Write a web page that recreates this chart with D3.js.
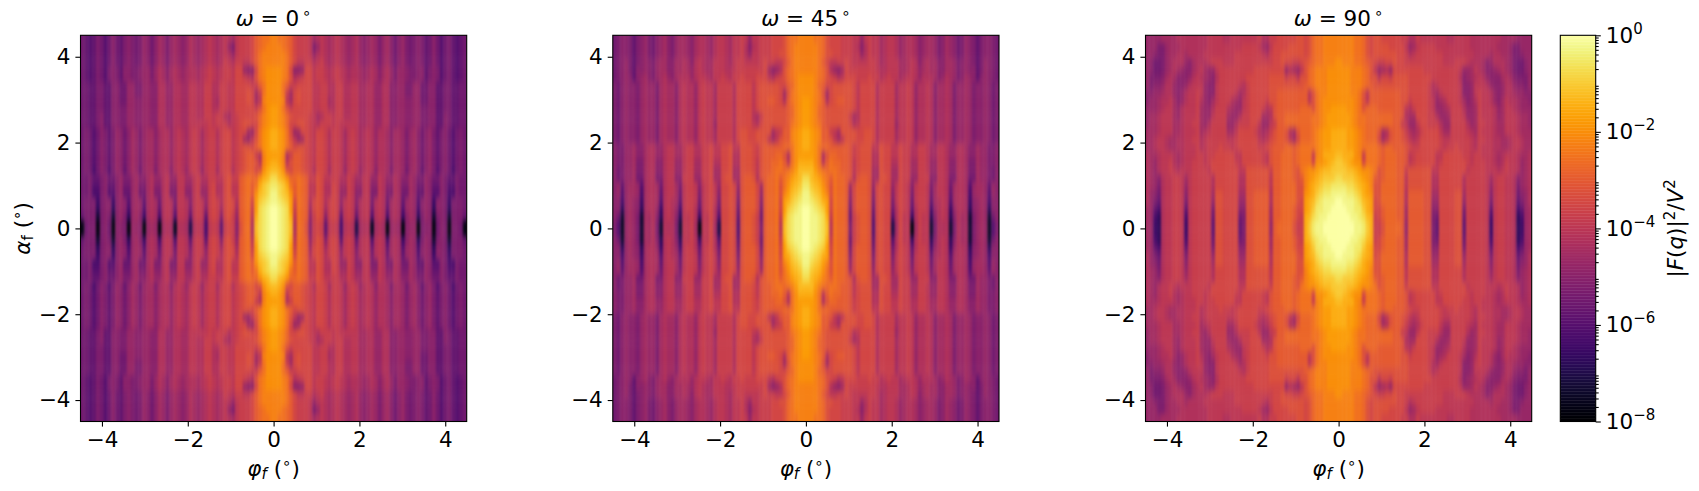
<!DOCTYPE html>
<html>
<head>
<meta charset="utf-8">
<script src="https://cdn.jsdelivr.net/npm/d3@7"></script>
<style>
  html, body { margin: 0; padding: 0; background: #fff; }
  svg { display: block; }
  text { font-family: "DejaVu Sans", sans-serif; fill: #000; }
</style>
</head>
<body>
<div id="chart"></div>
<script>
// upper left quadrant of each map: top row is alpha = 4.5,
// first column is phi = -4.5. One char per cell, base 36, 1 step = 1/4 decade above 1e-8.
var omega0Rows = [
  "a989ba8aca 9bcbabdcac edbdedcdfe defgfefgfe ghhhiklmmn",
  "a989ba8aca 9bcbabdcac edbdedcdfe defgfefgdb ghhhiklmnn",
  "a989ba8aca 9bcbabdcac edbdedcdfe defgfefgfd ghhhikmnnn",
  "a989ba8aca 9bcbabdcac edbdedcdfe defgfefhgf hhggikmnnn",
  "a989ba8bcb 9ccbbcddbd fecefedeff efghgfghhg iidccimnoo",
  "a989ba8bcb 9ccbbcddbd fecefedeff efghgfghhg iihgfjmnoo",
  "aa99bb99cc aaddbbddcc ffddffeegg ffhhffhhgg iiiihhkmoo",
  "aa99bb99cc aaddbbddcc ffddffeegg ffhhffhhgg iiijiehmoo",
  "aa99bb99cc aaddccddcc ffddffeegg ffhhfehhgg iiijiegnoo",
  "aa99bb99cc bbddccddcc ffddffeegg ffhhffhhgg iiiiihjmop",
  "aa99bc99cc bbddccddcc ffddffeegg ffhhghhfeg hiiiijlnop",
  "aa99bc99cc bbddccddcc ffddffeegg ggghghhhfg hijjiilnop",
  "aba8acb9bd cacedbdeec effdfgfegh geghhfhiig hiiedimopq",
  "aba8acb9bd cacedbdeec effdfgfegh geghhfhiig hiedgjmopq",
  "aba8acb9bd cacedbdeec effdfgfegh geghhfhiig hijjikmopq",
  "aba8acb9bd cacedbdeec effdfgfegh geghhfhiig hijkkhfnpp",
  "aba8acb9bd cacedbdeec effdfgfegh geghhfhiig hijkkjgnpq",
  "aba7acb8bd c9cedadeeb effcfgfdgh gdghhehiif hijkkijoqr",
  "aab99bcaac dbbdeccefd dfgddggeeg hffhhggijh hklmlloqrt",
  "aab88bc99c daadebbefc cfgccggddg heehiffijg gklmkmqstu",
  "aab77bc88c d99deaaefb bfgbbggccg hddhiffijg gklmkorstv",
  "abbb6bcc6c dc8ded9efe afgfbggfcg hgdhihfiji fklmipstuv",
  "abbb5bcc5c dc7ded8efe 9fgfaggfbg hgchiheiji eklmhptuvw",
  "9bbb3bcb3c db5dec6efe 7fgf8ggf9g hg9hihcijh dklmgqtuvw",
  "1abb1bca1c cb1ddc1ded 1efe2ffe4f gf7ghg9hih cjlmfrtuvw"
];
var omega45Rows = [
  "abccb9bcdb acdecbdeed ceffedfggf egghgdgghh hiiijlmmnn",
  "abccb9bcdb acdecbdeed ceffedfggf egghfcfghh hiiijlmnnn",
  "abccb9bcdb acdecbdeed ceffedfggf egghfdgghh hiijjlmnnn",
  "abcdb9bcdc bdeecceefe cfgfeegggf eghhgggghi hhggikmnnn",
  "abcdb9ccdc bdeecceefe dfgfeegggf fghhhhhhhi ecdfjlmnnn",
  "abcdc9cdec bdefdcefff dfggfegghg fhhihhhiii gfhijlmnoo",
  "bacdccbded dbefeecfgf fdghggehhh hfiiiigijj jjjiiklnoo",
  "bacdccbded dbefeecfgf fdghggehhh hfiiiigijj jjjiejmnoo",
  "bacdccbded dbefeecfgf fdghggehhh hfiiiigijj kkjifkmnop",
  "bacdccbded dbefeecfgf fdghggehhh hfiiiigijj jjjjjklnop",
  "bacdccbded dbefeecfgf fdghggehhh hfiiiifehj jjjjjklnop",
  "bacdccbded dbefeecfgf fdghggdhhh hfiiiigfij jjjjjkmnop",
  "bacdccbded dbefeecfgf fdghggehhh hfijjiijjj jeghkknopq",
  "bacdccbded dbefeecfgf fdghggehhh hfijjiijjj gegjkknopq",
  "cbbddeccef fddfggeegh hffhhiggii jggjjjihjk kkkkllmopq",
  "cbbddeccef fddfggeegh hffhhiggii jffjjjihjk kklljfmopp",
  "cbbddebbef fccfggddgh heehhiffii jffjjjigjk kllmkgmoqq",
  "cabddebbef fccfggddgh heehhieeii jeejjjigjk klmmlmnprr",
  "cabddeaaef fbbfggcchh hddhhieeij jeejkkjfjk llmkmnpqrt",
  "cd9deed8ef feafggebgh hgcghigdii jidjkkkiek llmjmoqrsu",
  "cd8deed7ef fe9fggeagh hgbghigcii jicjkkkidk llmjnprstv",
  "cc7dedc6ef fe8fgfe9gh hgaghigbii jibjkkkick llmipqstuv",
  "cc5dedc5ef fd6fgfd7gh hf9ghifaii jiajkkkibk llmipstuvw",
  "ca3dedb3ee fc5fgfc5gg hf6ggif8ii ji9jkkjhak llmhqtuvvw",
  "b82dedb3ee fb3fffb3gg he1ggie4ii ji8jkkjhbk llmgrtuvvw"
];
var omega90Rows = [
  "ddddeeeeff ffffffgggg ffgggggggh ffhhiiiiij jijlmmnnnn",
  "dddbbdeeef ffffffgggg ggggghhhhg edgiiiijjj jijlmmnnnn",
  "ddcbbdeeff effffggggg ggghhhhhhh gfhiijjjjj jijlmmnnnn",
  "dcaabdefff dcefffghhh ggghhhhhhh hhhiijiihh ijklmmnnno",
  "dcaabdefed ccefgeddgh hhhhhhhhii iiiiiidfed gjlmnnnooo",
  "dbbbcefecc cdfgfedcfh hhhhhhiiii iijjjjhiig jjlmnnnooo",
  "dbccdffdcc dfgggdccgh hhhhgfhiii iijjjjjjjj jklmnnnooo",
  "ccddeffdcd fgghgdccgh hhhgefhiii iijjkkkkkk kkgjmnnooo",
  "cddeffgecd fgghfdcegh hhfedghiii ihjjkkkkkk kkgjmnoooo",
  "dddefggedf gggheddfhh hfeddghiii hfgjkkkkkk llljmnoopp",
  "deefgggedf gggheddghh heddfhhiii eefjkkllll lllmmnoppp",
  "deefgggeef gghhedfhhh hddfhhhiig ddghkkllll lllmmnoppp",
  "eeefgggeef ggghefghhh heegiiiihf efhjkkjfej lllmnoppqq",
  "eefggfeeff gghhfghhhh hgghiiiiig fgijkkjgei lllmnoppqq",
  "eefggfeeff ggghfghhhi hhghiiiiih hijkkkllkl mmmmnoppqq",
  "feefgggfef ggghhghhii iiiggiiiii hgjkklllkl mmmhnoqqqr",
  "fedfgghfef gghhhghiii iiihgiiiii hgjkklllkl mmmioopqrs",
  "fedfgghgfg gghhhhgiii iiiiggjjjj jjhkklllkj mnoopqrrss",
  "fedcfgghhg eghhhhhfii iiiiffjjjj jjgkklllkj knopqrssst",
  "fedbfgghhg dghhhhhfii iiiiffjjjj jjgkkllllj jnpqrsttuu",
  "fdcafgghhg cghhhhhejj iiiieejjkk kkfkkllllj jopqstuuvv",
  "fdb9fgghhg bghhhhhdjj iiiiddjjkk kkfkkllllj ipqrtuvvvw",
  "ed97fgghhg 9ghhhhhbjj iiiiccjjkk kkekklllki ipqsuuvvww",
  "ed75fgghhg 7ghhhhhajj iiiiabjjkk kkekklllki hqrtuvvwww",
  "ed65fgghhg 6ghhhhh9jj iiii9bjjkk kkdklllljh hqsuvvwwww"
];

var panelTitles = ['0', '45', '90'];
var panelRows = [omega0Rows, omega45Rows, omega90Rows];
var panelLefts = [80.5, 612.8, 1145.5];
var angleTicks = [-4, -2, 0, 2, 4];
var colorbarExponents = [0, -2, -4, -6, -8];

var W = 1699, H = 491;
var plotTop = 35.3, plotSize = 386.2;
var fontSize = 21.5, smallSize = 15;
var cols = 100, rows = 50;

function decode(rowStrings) {
  // mirror the quadrant both ways, the picture is symmetric
  var cells = [];
  var top = rowStrings.map(function(r) {
    var half = r.replace(/ /g, '').split('').map(function(c) { return parseInt(c, 36); });
    return half.concat(half.slice().reverse());
  });
  var all = top.concat(top.slice().reverse());
  all.forEach(function(row, j) {
    row.forEach(function(level, i) {
      cells.push({i: i, j: j, value: Math.pow(10, -8 + level / 4)});
    });
  });
  return cells;
}

var color = d3.scaleSequentialLog(d3.interpolateInferno).domain([1e-8, 1]);

var svg = d3.select('#chart').append('svg').attr('width', W).attr('height', H);
var defs = svg.append('defs');
var blur = defs.append('filter').attr('id', 'soft')
  .attr('filterUnits', 'userSpaceOnUse')
  .attr('x', 0).attr('y', 0).attr('width', W).attr('height', H)
  .attr('color-interpolation-filters', 'sRGB');
blur.append('feGaussianBlur').attr('stdDeviation', '1.3 3.4');

function addMath(sel, parts) {
  parts.forEach(function(p) {
    var t = sel.append('tspan').text(p.t);
    if (p.i) t.style('font-style', 'italic');
    if (p.size) t.style('font-size', p.size + 'px');
    if (p.dy) t.attr('dy', p.dy);
    if (p.dx) t.attr('dx', p.dx);
  });
}

function styleAxis(g) {
  g.select('.domain').remove();
  g.selectAll('.tick line').attr('stroke', '#000').attr('stroke-width', 1.1);
  g.selectAll('.tick text').style('font-size', fontSize + 'px')
    .style('font-family', '"DejaVu Sans", sans-serif').attr('fill', '#000');
}

panelRows.forEach(function(rowStrings, p) {
  var left = panelLefts[p];
  var x = d3.scaleLinear().domain([-4.5, 4.5]).range([left, left + plotSize]);
  var y = d3.scaleLinear().domain([-4.5, 4.5]).range([plotTop + plotSize, plotTop]);
  var xCell = d3.scaleBand().domain(d3.range(cols)).range([left, left + plotSize]);
  var yCell = d3.scaleBand().domain(d3.range(rows)).range([plotTop, plotTop + plotSize]);

  defs.append('clipPath').attr('id', 'clip' + p).append('rect')
    .attr('x', left).attr('y', plotTop).attr('width', plotSize).attr('height', plotSize);

  var g = svg.append('g').attr('clip-path', 'url(#clip' + p + ')')
    .append('g').attr('filter', 'url(#soft)');
  var pad = 14; // outer cells run past the frame so the blur does not fade at the edge
  g.selectAll('rect').data(decode(rowStrings)).join('rect')
    .attr('x', function(d) { return xCell(d.i) - (d.i === 0 ? pad : 0); })
    .attr('y', function(d) { return yCell(d.j) - (d.j === 0 ? pad : 0); })
    .attr('width', function(d) { return xCell.bandwidth() + 0.3 + (d.i === 0 || d.i === cols - 1 ? pad : 0); })
    .attr('height', function(d) { return yCell.bandwidth() + 0.3 + (d.j === 0 || d.j === rows - 1 ? pad : 0); })
    .attr('fill', function(d) { return color(d.value); });

  svg.append('rect').attr('x', left).attr('y', plotTop)
    .attr('width', plotSize).attr('height', plotSize)
    .attr('fill', 'none').attr('stroke', '#000').attr('stroke-width', 1.1);

  svg.append('g').attr('transform', 'translate(0,' + (plotTop + plotSize) + ')')
    .call(d3.axisBottom(x).tickValues(angleTicks).tickSize(5.1).tickPadding(5))
    .call(styleAxis);
  svg.append('g').attr('transform', 'translate(' + left + ',0)')
    .call(d3.axisLeft(y).tickValues(angleTicks).tickSize(5.1).tickPadding(5))
    .call(styleAxis);

  var cx = left + plotSize / 2;
  var title = svg.append('text').attr('x', cx).attr('y', 25.5).attr('text-anchor', 'middle')
    .style('font-size', fontSize + 'px');
  addMath(title, [
    {t: '\u03c9', i: true}, {t: ' = ' + panelTitles[p]},
    {t: '\u2218', size: smallSize, dy: -8, dx: 3}
  ]);

  var xLabel = svg.append('text').attr('x', cx).attr('y', 476).attr('text-anchor', 'middle')
    .style('font-size', fontSize + 'px');
  addMath(xLabel, [
    {t: '\u03c6', i: true}, {t: 'f', i: true, size: smallSize, dy: 3},
    {t: ' (', dy: -3}, {t: '\u2218', size: smallSize, dy: -8}, {t: ')', dy: 8}
  ]);
});

var yLabel = svg.append('text').attr('text-anchor', 'middle')
  .attr('transform', 'translate(30,' + (plotTop + plotSize / 2) + ') rotate(-90)')
  .style('font-size', fontSize + 'px');
addMath(yLabel, [
  {t: '\u03b1', i: true}, {t: 'f', size: smallSize, dy: 3},
  {t: ' (', dy: -3}, {t: '\u2218', size: smallSize, dy: -8}, {t: ')', dy: 8}
]);

// colorbar
var cbLeft = 1560.3, cbWidth = 35.4;
var cbScale = d3.scaleLog().domain([1e-8, 1]).range([plotTop + plotSize, plotTop]);
var steps = d3.range(0, 256);
var stepH = plotSize / 256;
svg.append('g').selectAll('rect').data(steps).join('rect')
  .attr('x', cbLeft).attr('width', cbWidth)
  .attr('y', function(d) { return plotTop + plotSize - (d + 1) * stepH; })
  .attr('height', stepH + 0.4)
  .attr('fill', function(d) { return d3.interpolateInferno((d + 0.5) / 256); });
svg.append('rect').attr('x', cbLeft).attr('y', plotTop)
  .attr('width', cbWidth).attr('height', plotSize)
  .attr('fill', 'none').attr('stroke', '#000').attr('stroke-width', 1.1);

var minorTicks = [];
d3.range(-8, 0).forEach(function(e) {
  d3.range(2, 10).forEach(function(m) { minorTicks.push(m * Math.pow(10, e)); });
});
svg.append('g').attr('transform', 'translate(' + (cbLeft + cbWidth) + ',0)')
  .call(d3.axisRight(cbScale).tickValues(minorTicks).tickSize(3).tickFormat(''))
  .call(styleAxis);
var cbAxis = svg.append('g').attr('transform', 'translate(' + (cbLeft + cbWidth) + ',0)')
  .call(d3.axisRight(cbScale)
    .tickValues(colorbarExponents.map(function(e) { return Math.pow(10, e); }))
    .tickSize(5.1).tickPadding(5).tickFormat(''))
  .call(styleAxis);
cbAxis.selectAll('.tick text').each(function(d, i) {
  var e = colorbarExponents[i];
  var t = d3.select(this);
  t.text('10');
  t.append('tspan').text(String(e).replace('-', '\u2212'))
    .style('font-size', smallSize + 'px').attr('dy', -9);
});

var cbLabel = svg.append('text').attr('text-anchor', 'middle')
  .attr('transform', 'translate(1683,' + (plotTop + plotSize / 2) + ') rotate(-90)')
  .style('font-size', fontSize + 'px');
addMath(cbLabel, [
  {t: '|'}, {t: 'F', i: true}, {t: '('}, {t: 'q', i: true}, {t: ')|'},
  {t: '2', size: smallSize, dy: -8}, {t: '/', dy: 8}, {t: 'V', i: true},
  {t: '2', size: smallSize, dy: -8}
]);
</script>
</body>
</html>
